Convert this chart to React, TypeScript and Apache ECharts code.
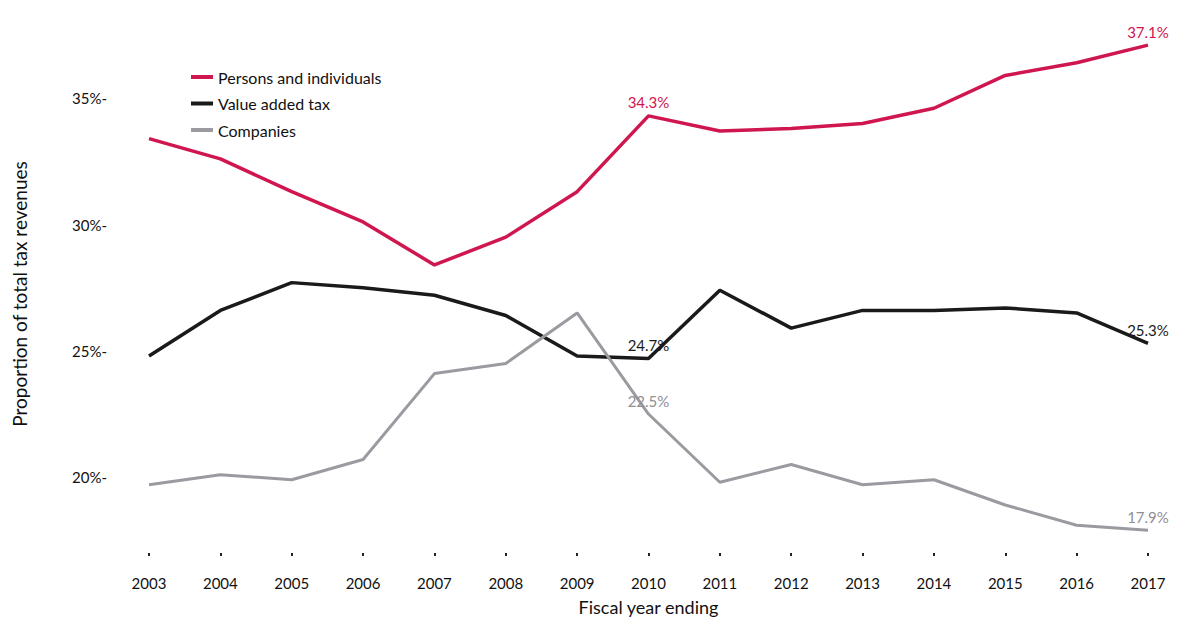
import React, { useEffect, useRef } from "react";
import * as echarts from "echarts";

const years = ["2003","2004","2005","2006","2007","2008","2009","2010","2011","2012","2013","2014","2015","2016","2017"];
const persons = [33.4, 32.6, 31.3, 30.1, 28.4, 29.5, 31.3, 34.3, 33.7, 33.8, 34.0, 34.6, 35.9, 36.4, 37.1];
const vat = [24.8, 26.6, 27.7, 27.5, 27.2, 26.4, 24.8, 24.7, 27.4, 25.9, 26.6, 26.6, 26.7, 26.5, 25.3];
const companies = [19.7, 20.1, 19.9, 20.7, 24.1, 24.5, 26.5, 22.5, 19.8, 20.5, 19.7, 19.9, 18.9, 18.1, 17.9];
const labelledYears = ["2010", "2017"];

const FONT = "Lato, 'Open Sans', sans-serif";

export default function App() {
  const ref = useRef<HTMLDivElement>(null);
  useEffect(() => {
    if (!ref.current) return;
    const chart = echarts.init(ref.current, null, { renderer: "svg" });
    const mk = (vals: number[], color: string) =>
      vals.map((v, i) => ({
        value: v,
        label: labelledYears.includes(years[i])
          ? { show: true, position: "top", formatter: v.toFixed(1) + "%", color, fontSize: 15, fontFamily: FONT, distance: 6 }
          : { show: false },
      }));
    const line = (name: string, vals: number[], color: string, labelColor: string, width: number) => ({
      name,
      type: "line",
      data: mk(vals, labelColor),
      symbol: "circle",
      symbolSize: 0,
      showSymbol: true,
      lineStyle: { color, width },
      itemStyle: { color },
    });
    chart.setOption({
      animation: false,
      backgroundColor: "#ffffff",
      grid: { left: 149, right: 29, top: 35, bottom: 66, containLabel: false, outerBoundsMode: "none" },
      legend: {
        orient: "vertical",
        left: 186,
        top: 64,
        itemGap: 10.5,
        icon: "rect",
        itemWidth: 22,
        itemHeight: 4,
        textStyle: { fontSize: 16, fontFamily: FONT, color: "#111" },
        data: ["Persons and individuals", "Value added tax", "Companies"],
      },
      xAxis: {
        type: "category",
        data: years,
        boundaryGap: false,
        axisLine: { show: false },
        axisTick: { show: true, length: 3, lineStyle: { color: "#222", width: 2 }, alignWithLabel: true },
        axisLabel: { fontSize: 15, fontFamily: FONT, color: "#111", margin: 22 },
        name: "Fiscal year ending",
        nameLocation: "middle",
        nameGap: 45,
        nameTextStyle: { fontSize: 18, fontFamily: FONT, color: "#111" },
      },
      yAxis: {
        type: "value",
        min: 17,
        max: 37.5,
        interval: 1,
        splitLine: { show: false },
        axisLine: { show: false },
        axisTick: { show: false },
        axisLabel: {
          fontSize: 15,
          fontFamily: FONT,
          color: "#111",
          margin: 42,
          formatter: (v: number) => (Math.abs(v % 5) < 1e-9 ? v + "%-" : ""),
        },
        name: "Proportion of total tax revenues",
        nameLocation: "middle",
        nameGap: 120,
        nameTextStyle: { fontSize: 19, fontFamily: FONT, color: "#111" },
      },
      series: [
        line("Persons and individuals", persons, "#d0164e", "#d0164e", 3.5),
        line("Value added tax", vat, "#1a1a1a", "#1a1a1a", 3.5),
        line("Companies", companies, "#9a9aa0", "#8f8f96", 3),
      ],
    });
    return () => chart.dispose();
  }, []);
  return <div ref={ref} style={{ position: "absolute", left: 0, top: 0, width: 1177, height: 619 }} />;
}
